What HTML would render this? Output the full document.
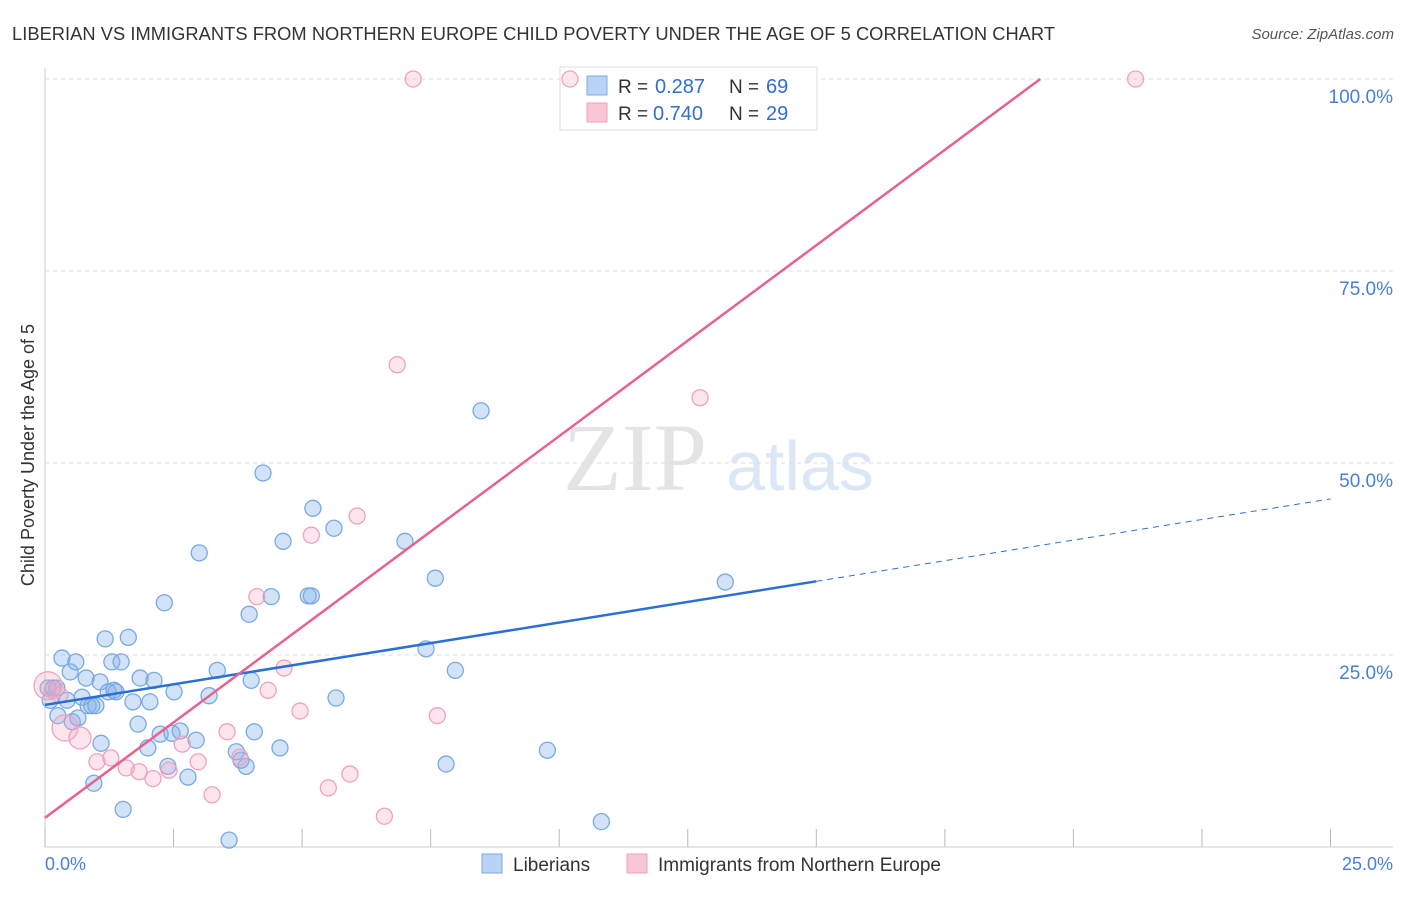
<!DOCTYPE html>
<html><head><meta charset="utf-8"><style>
body{margin:0;background:#fff;font-family:"Liberation Sans",sans-serif;}
</style></head><body>
<svg id="chart" width="1406" height="892" xmlns="http://www.w3.org/2000/svg">
<text x="12" y="40" font-size="18.3" fill="#333" textLength="1043">LIBERIAN VS IMMIGRANTS FROM NORTHERN EUROPE CHILD POVERTY UNDER THE AGE OF 5 CORRELATION CHART</text>
<text x="1394" y="39" font-size="15" fill="#555" text-anchor="end" font-style="italic">Source: ZipAtlas.com</text>
<text x="635" y="490" font-size="96" fill="#e4e4e4" font-family="Liberation Serif,serif" text-anchor="middle">ZIP</text>
<text x="800" y="490" font-size="70" fill="#dce7f5" text-anchor="middle">atlas</text>
<g id="grid"></g>
<g>
<rect x="560" y="67" width="257" height="63" fill="#fff" stroke="#ddd"/>
<rect x="587" y="76" width="20" height="19" fill="#b8d3f3" stroke="#7aaee6"/>
<rect x="587" y="103" width="20" height="19" fill="#f8c6d5" stroke="#f0a0b8"/>
<text x="618" y="93" font-size="19" fill="#333">R =</text><text x="655" y="93" font-size="20" fill="#2f6fd0">0.287</text>
<text x="729" y="93" font-size="19" fill="#333">N =</text><text x="766" y="93" font-size="20" fill="#2f6fd0">69</text>
<text x="618" y="120" font-size="19" fill="#333">R =</text><text x="653" y="120" font-size="20" fill="#2f6fd0">0.740</text>
<text x="729" y="120" font-size="19" fill="#333">N =</text><text x="766" y="120" font-size="20" fill="#2f6fd0">29</text>
</g>
<g id="pts"></g><g id="lines"></g>
<text transform="translate(34,455) rotate(-90)" font-size="18" fill="#333" text-anchor="middle">Child Poverty Under the Age of 5</text>
<text x="45" y="870" font-size="18" fill="#4a7fd4">0.0%</text>
<text x="1393" y="870" font-size="18" fill="#4a7fd4" text-anchor="end">25.0%</text>
<g>
<rect x="482" y="854" width="20" height="19" fill="#b8d3f3" stroke="#7aaee6"/>
<text x="513" y="871" font-size="19" fill="#333">Liberians</text>
<rect x="627" y="854" width="20" height="19" fill="#f8c6d5" stroke="#f0a0b8"/>
<text x="658" y="871" font-size="19" fill="#333">Immigrants from Northern Europe</text>
</g>
</svg>
<script>
const yTicks=[25,50,75,100];
const xTicks=[0,2.5,5,7.5,10,12.5,15,17.5,20,22.5,25];
const blueX=[0.06,0.16,0.23,0.10,0.25,0.33,0.43,0.49,0.53,0.60,0.64,0.72,0.80,0.84,0.91,0.99,0.95,1.07,1.09,1.17,1.23,1.30,1.34,1.38,1.48,1.52,1.62,1.71,1.81,1.85,2.00,2.04,2.12,2.32,2.24,2.39,2.47,2.51,2.63,2.78,2.94,3.00,3.19,3.35,3.58,3.72,3.81,3.91,3.97,4.01,4.07,4.24,4.40,4.57,4.63,5.12,5.18,5.21,5.62,5.66,7.00,7.41,7.59,7.80,7.98,8.48,9.77,10.82,13.23];
const blueY=[20.7,20.7,20.7,19.1,17.1,24.6,19.1,22.8,16.3,24.1,16.8,19.5,22.0,18.4,18.4,18.4,8.3,21.5,13.5,27.1,20.2,24.1,20.4,20.2,24.1,4.9,27.3,18.9,16.0,22.0,12.9,18.9,21.7,31.8,14.7,10.5,14.8,20.2,15.1,9.1,13.9,38.3,19.7,23.0,0.9,12.4,11.3,10.5,30.3,21.7,15.0,48.7,32.6,12.9,39.8,32.7,32.7,44.1,41.5,19.4,39.8,25.8,35.0,10.8,23.0,56.8,12.6,3.3,34.5];
const pinkX=[0.06,0.14,0.29,0.39,0.68,1.01,1.28,1.58,1.83,2.10,2.41,2.67,2.98,3.25,3.54,3.79,4.12,4.34,4.65,4.96,5.18,5.51,5.93,6.07,6.60,6.85,7.16,7.63,10.21,12.74,21.21];
const pinkY=[21.0,20.4,19.8,15.5,14.2,11.1,11.6,10.3,9.8,8.9,10.0,13.4,11.1,6.8,15.0,11.7,32.6,20.4,23.3,17.7,40.6,7.7,9.5,43.1,4.0,62.8,100,17.1,100,58.5,100];
const pinkR=[14,8,8,13,11,8,8,8,8,8,8,8,8,8,8,8,8,8,8,8,8,8,8,8,8,8,8,8,8,8,8];
const blueFit=[18.5,1.073], pinkFit=[3.8,4.97];
const X=v=>45+v*51.42, Y=v=>847-v*7.68;
const NS="http://www.w3.org/2000/svg";
function mk(t,a,p){const e=document.createElementNS(NS,t);for(const k in a)e.setAttribute(k,a[k]);p.appendChild(e);return e;}
const grid=document.getElementById('grid');
mk('line',{x1:45,y1:68,x2:45,y2:847,stroke:'#ccc'},grid);
mk('line',{x1:45,y1:847,x2:1393,y2:847,stroke:'#ccc'},grid);
yTicks.forEach(t=>{
 const l=mk('line',{x1:45,y1:Y(t),x2:1393,y2:Y(t),stroke:'#ddd','stroke-dasharray':'4,4'},grid);
 
 
 const tx=mk('text',{x:1393,y:Y(t)+24,'font-size':19,fill:'#4a7fd4','text-anchor':'end'},grid);
 tx.textContent=t.toFixed(1)+'%';
 
 
});
xTicks.forEach(t=>{
 const l=mk('line',{x1:X(t),y1:829,x2:X(t),y2:847,stroke:'#bbb'},grid);
 
 
});
const pts=document.getElementById('pts');
blueX.forEach((x,i)=>{
 const c=mk('circle',{cx:X(x),cy:Y(blueY[i]),r:8,fill:'rgba(130,175,232,0.35)',stroke:'#78a9e4','stroke-width':1.3},pts);
 
 
});
pinkX.forEach((x,i)=>{
 const c=mk('circle',{cx:X(x),cy:Y(pinkY[i]),r:pinkR[i],fill:'rgba(245,170,195,0.3)',stroke:'#f0a2ba','stroke-width':1.3},pts);
 
 
});
const lines=document.getElementById('lines');
const b1=mk('line',{x1:X(0),y1:Y(blueFit[0]),x2:X(15),y2:Y(blueFit[0]+15*blueFit[1]),stroke:'#2a6fd6','stroke-width':2.5},lines);


const b2=mk('line',{x1:X(15),y1:Y(blueFit[0]+15*blueFit[1]),x2:X(25),y2:Y(blueFit[0]+25*blueFit[1]),stroke:'#2a6fd6','stroke-width':1,'stroke-dasharray':'6,5'},lines);


const xe=(100-pinkFit[0])/pinkFit[1];
const p1=mk('line',{x1:X(0),y1:Y(pinkFit[0]),x2:X(xe),y2:Y(100),stroke:'#e8628d','stroke-width':2.5},lines);


</script>
</body></html>
